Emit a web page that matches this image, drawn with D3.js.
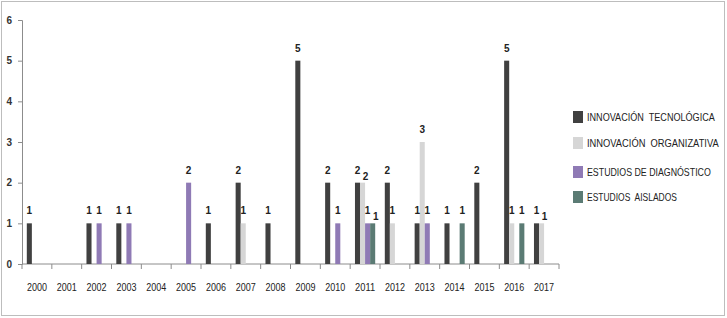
<!DOCTYPE html>
<html>
<head>
<meta charset="utf-8">
<script src="https://cdn.jsdelivr.net/npm/d3@7"></script>
<style>
  body { margin: 0; background: #fff; }
  svg text { font-family: "Liberation Sans", Arial, sans-serif; }
</style>
</head>
<body>
<svg width="727" height="318"></svg>
<script>
// Data
const years = ["2000","2001","2002","2003","2004","2005","2006","2007","2008",
               "2009","2010","2011","2012","2013","2014","2015","2016","2017"];
const seriesNames = ["INNOVACIÓN  TECNOLÓGICA", "INNOVACIÓN  ORGANIZATIVA",
                     "ESTUDIOS DE DIAGNÓSTICO", "ESTUDIOS  AISLADOS"];
const tecnologica  = [1,0,1,1,0,0,1,2,1,5,2,2,2,1,1,2,5,1];
const organizativa = [0,0,0,0,0,0,0,1,0,0,0,2,1,3,0,0,1,1];
const diagnostico  = [0,0,1,1,0,2,0,0,0,0,1,1,0,1,0,0,0,0];
const aislados     = [0,0,0,0,0,0,0,0,0,0,0,1,0,0,1,0,1,0];
const yTicks = [0,1,2,3,4,5,6];

const colors = ["#404040", "#d6d6d6", "#8f7ab5", "#5b7b74"];
const values = [tecnologica, organizativa, diagnostico, aislados];

const svg = d3.select("svg");

// outer frame
svg.append("rect")
    .attr("x", 1.5).attr("y", 1.5)
    .attr("width", 723).attr("height", 314)
    .attr("fill", "none")
    .attr("stroke", "#bdbdbd");

// scales
const x0 = d3.scaleBand().domain(years).range([22, 559]);
const x1 = d3.scaleBand().domain(d3.range(4)).range([0, x0.bandwidth()]).paddingOuter(0.95);
const y = d3.scaleLinear().domain([0, 6]).range([264, 20]);

// y axis
const yAxis = svg.append("g")
    .attr("transform", "translate(22,0)")
    .call(d3.axisLeft(y).tickValues(yTicks).tickSize(4).tickPadding(6).tickFormat(d3.format("d")));
yAxis.select(".domain").attr("stroke", "#8c8c8c");
yAxis.selectAll(".tick line").attr("stroke", "#8c8c8c");
yAxis.selectAll("text").attr("font-size", 10).attr("font-weight", "bold").attr("fill", "#333");

// x axis with ticks between categories
const xAxis = svg.append("g").attr("transform", "translate(0,264)");
xAxis.append("line")
    .attr("x1", 22).attr("x2", 559)
    .attr("stroke", "#8c8c8c");
xAxis.selectAll(".xt")
    .data(years.concat(["end"]))
    .enter().append("line")
    .attr("class", "xt")
    .attr("x1", (d, i) => 22 + i * x0.step())
    .attr("x2", (d, i) => 22 + i * x0.step())
    .attr("y1", 0).attr("y2", 5)
    .attr("stroke", "#8c8c8c");
xAxis.selectAll(".xl")
    .data(years)
    .enter().append("text")
    .attr("class", "xl")
    .attr("x", d => x0(d) + x0.bandwidth() / 2)
    .attr("y", 27)
    .attr("text-anchor", "middle")
    .attr("font-size", 10)
    .attr("textLength", 20)
    .attr("lengthAdjust", "spacingAndGlyphs")
    .attr("fill", "#222")
    .text(d => d);

// bars
const points = [];
values.forEach((arr, s) => {
    arr.forEach((v, i) => {
        if (v > 0) points.push({ year: years[i], s: s, v: v });
    });
});

svg.selectAll(".bar")
    .data(points)
    .enter().append("rect")
    .attr("class", "bar")
    .attr("x", d => x0(d.year) + x1(d.s))
    .attr("y", d => y(d.v))
    .attr("width", x1.bandwidth())
    .attr("height", d => y(0) - y(d.v))
    .attr("fill", d => colors[d.s]);

// labels: nudge a label down-right when it collides with its left neighbour
points.forEach(d => {
    d.dx = 0; d.dy = 0;
    const prev = points.find(p => p.year === d.year && p.s === d.s - 1);
    if (prev && Math.abs(y(prev.v) - y(d.v)) < 12) { d.dx = 3; d.dy = 6; }
});

svg.selectAll(".lbl")
    .data(points)
    .enter().append("text")
    .attr("class", "lbl")
    .attr("x", d => x0(d.year) + x1(d.s) + x1.bandwidth() / 2 + d.dx)
    .attr("y", d => y(d.v) - 9 + d.dy)
    .attr("text-anchor", "middle")
    .attr("font-size", 10)
    .attr("font-weight", "bold")
    .attr("fill", "#222")
    .text(d => d.v);

// legend
const legendY = [117, 143, 172, 197];
const legendW = [128, 132, 124, 90];
const legend = svg.selectAll(".leg")
    .data(seriesNames)
    .enter().append("g")
    .attr("class", "leg")
    .attr("transform", (d, i) => "translate(573," + legendY[i] + ")");
legend.append("rect")
    .attr("x", 0).attr("y", -6)
    .attr("width", 10).attr("height", 12)
    .attr("fill", (d, i) => colors[i]);
legend.append("g")
    .attr("transform", "translate(14,4)")
    .append("text")
    .attr("font-size", 11)
    .attr("fill", "#222")
    .style("white-space", "pre")
    .text(d => d)
    .each(function(d, i) {
        const w = this.getComputedTextLength();
        d3.select(this.parentNode).attr("transform", "translate(14,4) scale(" + (legendW[i] / w) + ",1)");
    });
</script>
</body>
</html>
